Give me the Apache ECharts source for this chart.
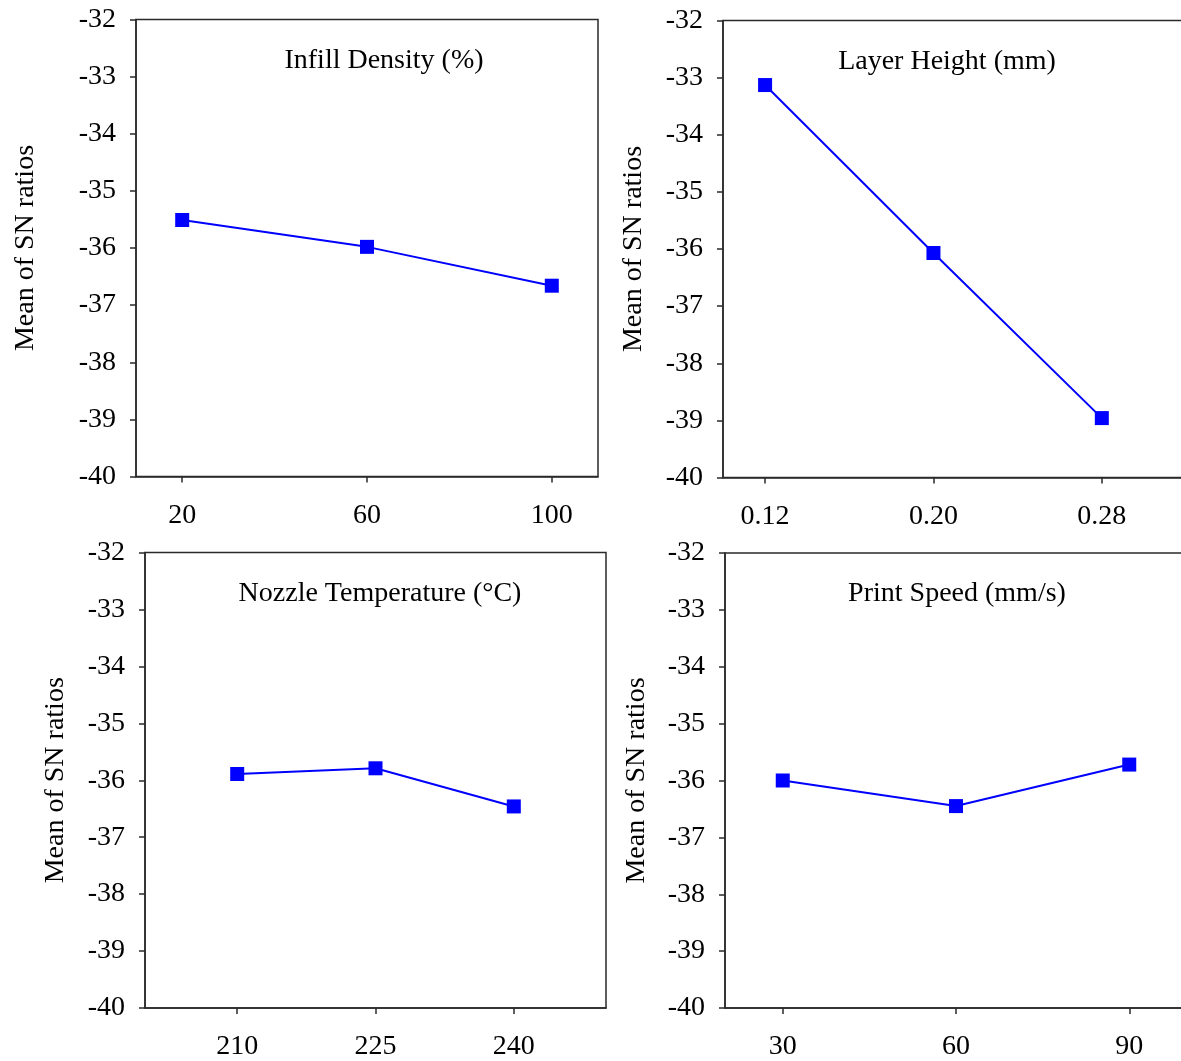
<!DOCTYPE html>
<html>
<head>
<meta charset="utf-8">
<script src="https://cdn.jsdelivr.net/npm/echarts@6/dist/echarts.min.js"></script>
<style>
html,body{margin:0;padding:0;background:#fff;overflow:hidden;}
#c{width:1200px;height:1061px;}
</style>
</head>
<body>
<div id="c"></div>
<script>
// ---- data ----
const titles = ['Infill Density (%)', 'Layer Height (mm)', 'Nozzle Temperature (\u00B0C)', 'Print Speed (mm/s)'];
const levels1 = [20, 60, 100];
const levels2 = [0.12, 0.20, 0.28];
const levels3 = [210, 225, 240];
const levels4 = [30, 60, 90];
const sn1 = [-35.51, -35.98, -36.66];
const sn2 = [-33.13, -36.07, -38.96];
const sn3 = [-35.89, -35.79, -36.46];
const sn4 = [-36.00, -36.45, -35.72];
const xRanges = [[10, 110], [0.10, 0.32], [200, 250], [20, 100]];
const yName = 'Mean of SN ratios';

const FONT = "'Times New Roman', 'Liberation Serif', serif";
const FS = 28;
const AX = '#2a2a2a';

const grids = [
  {left: 136, top: 19.5, width: 462, height: 457},
  {left: 723, top: 20.5, width: 463, height: 457},
  {left: 145, top: 552.5, width: 461, height: 456.5},
  {left: 725, top: 553, width: 462, height: 456}
];
const nameGaps = [96, 75, 75, 74];
const levels = [levels1, levels2, levels3, levels4];
const sns = [sn1, sn2, sn3, sn4];
const titlePos = [[384, 61], [947, 62], [380, 594], [957, 594]];

const option = {
  animation: false,
  backgroundColor: '#fff',
  grid: grids.map(g => Object.assign({show: true, borderColor: AX, borderWidth: 1.5, backgroundColor: 'transparent'}, g)),
  xAxis: levels.map((lv, i) => ({
    type: 'value', gridIndex: i, min: xRanges[i][0], max: xRanges[i][1],
    axisLine: {show: true, lineStyle: {color: AX, width: 1.5}},
    axisTick: {show: true, inside: false, length: 6, lineStyle: {color: AX, width: 1.5}, customValues: lv},
    axisLabel: {customValues: lv, margin: 25, color: '#000', fontFamily: FONT, fontSize: FS,
      formatter: v => i === 1 ? Number(v).toFixed(2) : String(v)},
    splitLine: {show: false}
  })),
  yAxis: levels.map((lv, i) => ({
    type: 'value', gridIndex: i, min: -40, max: -32, interval: 1,
    name: yName, nameLocation: 'middle', nameGap: nameGaps[i],
    nameTextStyle: {color: '#000', fontFamily: FONT, fontSize: FS},
    axisLine: {show: true, lineStyle: {color: AX, width: 1.5}},
    axisTick: {show: true, inside: false, length: 6, lineStyle: {color: AX, width: 1.5}},
    axisLabel: {margin: 20, color: '#000', fontFamily: FONT, fontSize: FS},
    splitLine: {show: false}
  })),
  series: levels.map((lv, i) => ({
    type: 'line', xAxisIndex: i, yAxisIndex: i,
    data: lv.map((x, k) => [x, sns[i][k]]),
    symbol: 'rect', symbolSize: 14,
    lineStyle: {color: '#0000ff', width: 2},
    itemStyle: {color: '#0000ff'}
  })),
  graphic: titles.map((t, i) => ({
    type: 'text', x: titlePos[i][0], y: titlePos[i][1],
    style: {text: t, font: FS + 'px ' + FONT, fill: '#000', textAlign: 'center', textVerticalAlign: 'middle'}
  }))
};

const chart = echarts.init(document.getElementById('c'), null, {renderer: 'canvas'});
chart.setOption(option);
</script>
</body>
</html>
